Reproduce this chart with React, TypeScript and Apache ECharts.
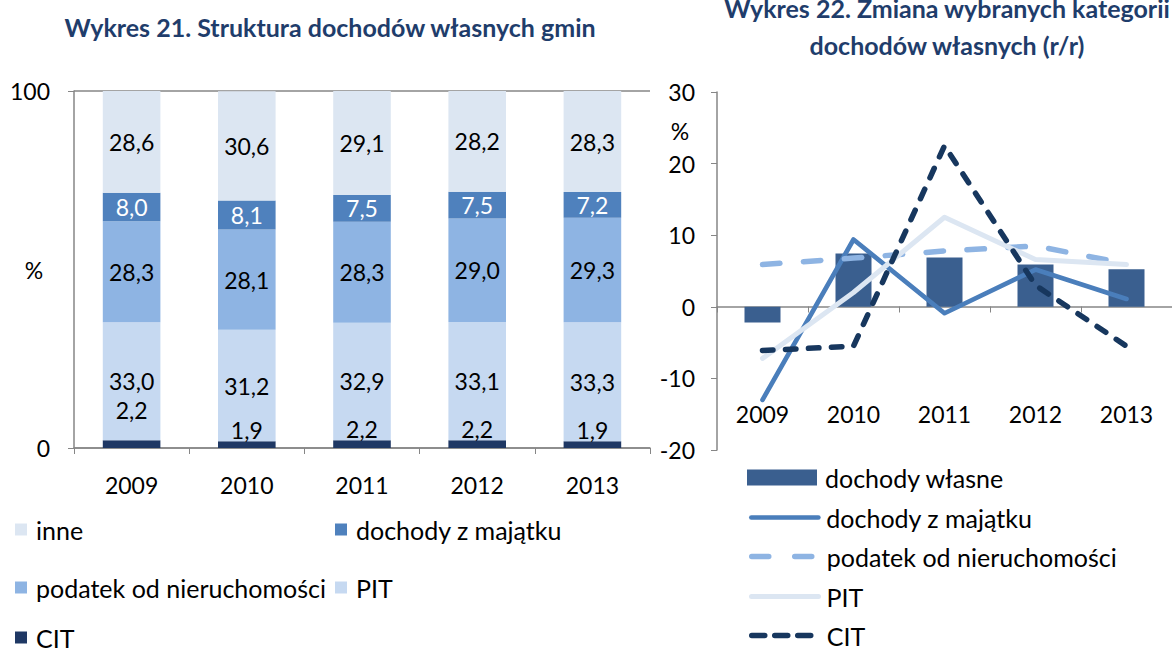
import React, { useEffect, useRef } from "react";
import * as echarts from "echarts";

const years = ["2009", "2010", "2011", "2012", "2013"];

// Wykres 21 – struktura (%)
const cit = [2.2, 1.9, 2.2, 2.2, 1.9];
const pit = [33.0, 31.2, 32.9, 33.1, 33.3];
const podatek = [28.3, 28.1, 28.3, 29.0, 29.3];
const majatek = [8.0, 8.1, 7.5, 7.5, 7.2];
const inne = [28.6, 30.6, 29.1, 28.2, 28.3];

// Wykres 22 – zmiana r/r (%)
const yoyWlasne = [-2.2, 7.45, 6.9, 5.9, 5.25];
const yoyMajatek = [-13.0, 9.4, -0.9, 5.2, 1.1];
const yoyPodatek = [5.9, 6.8, 7.8, 8.5, 6.0];
const yoyPit = [-7.2, 2.0, 12.5, 6.6, 5.9];
const yoyCit = [-6.1, -5.5, 22.5, 3.0, -5.5];

const FONT = "Lato";
const FS = 23;
const LFS = 25;
const TFS = 25;
const TITLE_COLOR = "#1F3D6B";
const AXIS_COLOR = "#868686";

const C_BAR = "#3A5F8F";
const C_MAJ = "#4A7EBB";
const C_POD = "#8EB4E3";
const C_PIT = "#DCE6F2";
const C_CIT = "#17375E";

const fmt = (p: any) => Number(p.value).toFixed(1).replace(".", ",");

function leftOption(): any {
  const lbl = (color: string) => ({
    show: true,
    position: "inside",
    formatter: fmt,
    color,
    fontFamily: FONT,
    fontSize: FS,
  });
  const legendItem = (name: string, left: number, cy: number) => ({
    show: true,
    left,
    top: cy - 13,
    data: [name],
    icon: "rect",
    itemWidth: 12,
    itemHeight: 12,
    selectedMode: false,
    padding: 0,
    textStyle: { fontFamily: FONT, fontSize: LFS, color: "#000", padding: [0, 0, 0, 4] },
  });
  return {
    animation: false,
    textStyle: { fontFamily: FONT },
    graphic: [
      {
        type: "text",
        x: 330,
        y: 27,
        style: {
          text: "Wykres 21. Struktura dochodów własnych gmin",
          fontFamily: FONT,
          fontSize: TFS,
          fontWeight: "bold",
          fill: TITLE_COLOR,
          align: "center",
          verticalAlign: "middle",
        },
      },
      {
        type: "text",
        x: 34,
        y: 270,
        style: { text: "%", fontFamily: FONT, fontSize: FS, fill: "#000", align: "center", verticalAlign: "middle" },
      },
    ],
    legend: [
      legendItem("inne", 15, 530),
      legendItem("dochody z majątku", 335, 530),
      legendItem("podatek od nieruchomości", 15, 588),
      legendItem("PIT", 335, 588),
      legendItem("CIT", 15, 638),
    ],
    grid: { left: 74, top: 91, width: 576, height: 357 },
    xAxis: {
      type: "category",
      data: years,
      axisLine: { lineStyle: { color: AXIS_COLOR, width: 1.5 } },
      axisTick: { show: true, length: 6, lineStyle: { color: AXIS_COLOR } },
      axisLabel: { color: "#000", fontFamily: FONT, fontSize: FS, margin: 25 },
    },
    yAxis: {
      type: "value",
      min: 0,
      max: 100,
      interval: 100,
      axisLine: { show: true, lineStyle: { color: AXIS_COLOR, width: 1.5 } },
      axisTick: { show: true, length: 6, lineStyle: { color: AXIS_COLOR } },
      splitLine: { show: true, lineStyle: { color: AXIS_COLOR, width: 1.5 } },
      axisLabel: { color: "#000", fontFamily: FONT, fontSize: FS, margin: 24 },
    },
    series: [
      {
        name: "CIT",
        type: "bar",
        stack: "s",
        barWidth: "50%",
        data: cit.map((v, i) => (i === 0 ? { value: v, label: { offset: [0, -19] } } : v)),
        itemStyle: { color: "#1F3864" },
        label: { ...lbl("#000"), position: "top", distance: 0 },
      },
      {
        name: "PIT",
        type: "bar",
        stack: "s",
        data: pit,
        itemStyle: { color: "#C6D9F1" },
        label: lbl("#000"),
      },
      {
        name: "podatek od nieruchomości",
        type: "bar",
        stack: "s",
        data: podatek,
        itemStyle: { color: "#8EB4E3" },
        label: lbl("#000"),
      },
      {
        name: "dochody z majątku",
        type: "bar",
        stack: "s",
        data: majatek,
        itemStyle: { color: "#4F81BD" },
        label: lbl("#fff"),
      },
      {
        name: "inne",
        type: "bar",
        stack: "s",
        data: inne,
        itemStyle: { color: "#DCE6F2" },
        label: lbl("#000"),
      },
    ],
  };
}

const LINE_STYLES: Record<string, any> = {
  "dochody z majątku": { color: C_MAJ, width: 4.7, type: "solid" },
  "podatek od nieruchomości": { color: C_POD, width: 5.5, type: [17.5, 23.5] },
  PIT: { color: C_PIT, width: 5, type: "solid" },
  CIT: { color: C_CIT, width: 5.5, type: [10.5, 12.5] },
};

function rightOption(): any {
  const legendBar = (name: string, cy: number) => ({
    show: true,
    left: 107,
    top: cy - 13,
    data: [name],
    icon: "rect",
    itemWidth: 70,
    itemHeight: 16,
    itemStyle: { color: C_BAR },
    selectedMode: false,
    padding: 0,
    textStyle: { fontFamily: FONT, fontSize: LFS, color: "#000", padding: [0, 0, 0, 3] },
  });
  const legendLine = (name: string, cy: number, dash?: number[]) => {
    const ls = LINE_STYLES[name];
    return {
      show: true,
      left: 109,
      top: cy - 13,
      data: [name],
      itemWidth: 67,
      itemHeight: 14,
      itemStyle: { opacity: 0 },
      lineStyle: {
        color: ls.color,
        width: ls.width,
        type: dash || ls.type,
        cap: "round",
        inactiveWidth: ls.width,
      },
      selectedMode: false,
      padding: 0,
      textStyle: { fontFamily: FONT, fontSize: LFS, color: "#000", padding: [0, 0, 0, 3] },
    };
  };
  const lineSeries = (name: string, data: number[]) => {
    const ls = LINE_STYLES[name];
    return {
      name,
      type: "line",
      data,
      symbol: "none",
      showSymbol: false,
      lineStyle: { color: ls.color, width: ls.width, type: ls.type, cap: "round", join: "round" },
      itemStyle: { color: ls.color },
      z: 3,
    };
  };
  return {
    animation: false,
    textStyle: { fontFamily: FONT },
    graphic: [
      {
        type: "text",
        x: 307,
        y: 26,
        style: {
          text: "Wykres 22. Zmiana wybranych kategorii\ndochodów własnych (r/r)",
          fontFamily: FONT,
          fontSize: TFS,
          lineHeight: 37,
          fontWeight: "bold",
          fill: TITLE_COLOR,
          align: "center",
          verticalAlign: "middle",
        },
      },
      {
        type: "text",
        x: 40,
        y: 131,
        style: { text: "%", fontFamily: FONT, fontSize: FS, fill: "#000", align: "center", verticalAlign: "middle" },
      },
    ],
    legend: [
      legendBar("dochody własne", 478),
      legendLine("dochody z majątku", 518),
      legendLine("podatek od nieruchomości", 557, [17, 26]),
      legendLine("PIT", 597),
      legendLine("CIT", 636, [13, 10]),
    ],
    grid: { left: 77, top: 92, width: 458, height: 358 },
    xAxis: {
      type: "category",
      data: years,
      position: "bottom",
      offset: -143.5,
      axisLine: { onZero: false, lineStyle: { color: AXIS_COLOR, width: 1.5 } },
      axisTick: { show: true, length: 6, lineStyle: { color: AXIS_COLOR } },
      axisLabel: { color: "#000", fontFamily: FONT, fontSize: FS, margin: 96 },
    },
    yAxis: {
      type: "value",
      min: -20,
      max: 30,
      interval: 10,
      axisLine: { show: true, lineStyle: { color: AXIS_COLOR, width: 1.5 } },
      axisTick: { show: true, length: 6, lineStyle: { color: AXIS_COLOR } },
      splitLine: { show: false },
      axisLabel: { color: "#000", fontFamily: FONT, fontSize: FS, margin: 22 },
    },
    series: [
      {
        name: "dochody własne",
        type: "bar",
        barWidth: 36,
        data: yoyWlasne,
        itemStyle: { color: C_BAR },
        z: 2,
      },
      lineSeries("dochody z majątku", yoyMajatek),
      lineSeries("podatek od nieruchomości", yoyPodatek),
      lineSeries("PIT", yoyPit),
      lineSeries("CIT", yoyCit),
    ],
  };
}

function Chart({ option, style }: { option: any; style: React.CSSProperties }) {
  const ref = useRef<HTMLDivElement>(null);
  useEffect(() => {
    if (!ref.current) return;
    const chart = echarts.init(ref.current, undefined, { renderer: "svg" });
    chart.setOption(option);
    return () => chart.dispose();
  }, [option]);
  return <div ref={ref} style={style} />;
}

const LEFT = leftOption();
const RIGHT = rightOption();

export default function App() {
  return (
    <div style={{ position: "absolute", left: 0, top: 0, width: 1172, height: 652, background: "#fff", overflow: "hidden" }}>
      <Chart option={LEFT} style={{ position: "absolute", left: 0, top: 0, width: 660, height: 652 }} />
      <Chart option={RIGHT} style={{ position: "absolute", left: 640, top: 0, width: 532, height: 652 }} />
    </div>
  );
}
